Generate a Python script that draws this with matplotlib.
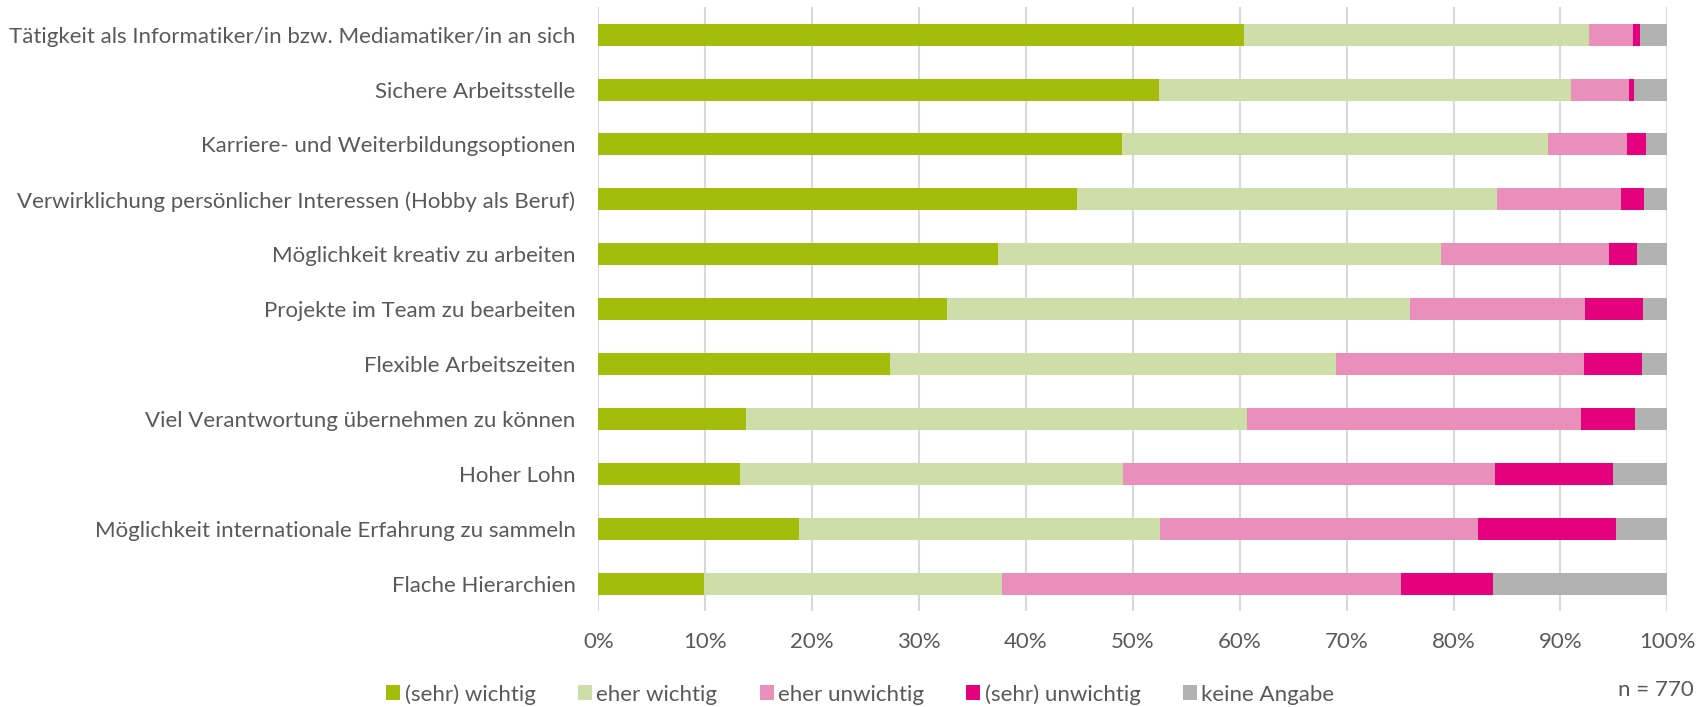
import matplotlib
matplotlib.use("Agg")
import matplotlib.pyplot as plt
import numpy as np

plt.rcParams.update({
    "font.family": ["Lato", "DejaVu Sans"],
    "font.size": 16,
})

TEXT = "#595959"
GRID = "#d9d9d9"

items = [
    "Tätigkeit als Informatiker/in bzw. Mediamatiker/in an sich",
    "Sichere Arbeitsstelle",
    "Karriere- und Weiterbildungsoptionen",
    "Verwirklichung persönlicher Interessen (Hobby als Beruf)",
    "Möglichkeit kreativ zu arbeiten",
    "Projekte im Team zu bearbeiten",
    "Flexible Arbeitszeiten",
    "Viel Verantwortung übernehmen zu können",
    "Hoher Lohn",
    "Möglichkeit internationale Erfahrung zu sammeln",
    "Flache Hierarchien",
]

series = ["(sehr) wichtig", "eher wichtig", "eher unwichtig", "(sehr) unwichtig", "keine Angabe"]
colors = ["#a3bd0a", "#cddea8", "#ea8fbb", "#e5007d", "#b2b2b2"]

sehr_wichtig = [60.4, 52.4, 49.0, 44.8, 37.4, 32.6, 27.3, 13.8, 13.3, 18.8, 9.9]
eher_wichtig = [32.3, 38.6, 39.8, 39.3, 41.4, 43.3, 41.7, 46.9, 35.8, 33.7, 27.9]
eher_unwichtig = [4.1, 5.4, 7.4, 11.6, 15.7, 16.4, 23.2, 31.2, 34.8, 29.8, 37.3]
sehr_unwichtig = [0.6, 0.5, 1.8, 2.1, 2.7, 5.4, 5.4, 5.1, 11.0, 12.9, 8.6]
keine_angabe = [2.6, 3.1, 2.0, 2.2, 2.8, 2.3, 2.4, 3.0, 5.1, 4.8, 16.3]

data = np.array([sehr_wichtig, eher_wichtig, eher_unwichtig, sehr_unwichtig, keine_angabe])
data = data / data.sum(axis=0) * 100

fig = plt.figure(figsize=(17.07, 7.07), dpi=100)
ax = fig.add_axes([0.3505, 0.1358, 0.6263, 0.854])

y = np.arange(len(items))
left = np.zeros(len(items))
for vals, name, col in zip(data, series, colors):
    ax.barh(y, vals, left=left, height=0.4, color=col, label=name, zorder=3)
    left += vals

ax.set_xlim(0, 100)
ax.set_ylim(len(items) - 0.5, -0.5)
ax.set_xticks(np.arange(0, 101, 10))
ax.set_xticklabels([f"{v}%" for v in range(0, 101, 10)])
ax.set_yticks(y)
ax.set_yticklabels(items)
ax.tick_params(axis="both", length=0, colors=TEXT, labelsize=16)
ax.tick_params(axis="y", pad=16.5)
ax.tick_params(axis="x", pad=15)
ax.grid(axis="x", color=GRID, lw=1.5, zorder=0)
for s in ax.spines.values():
    s.set_visible(False)

handles, labels = ax.get_legend_handles_labels()
fig.legend(handles, labels, loc="center", bbox_to_anchor=(0.504, 0.018), ncol=5,
           frameon=False, fontsize=16, labelcolor=TEXT, handlelength=0.63, handleheight=0.63,
           handletextpad=0.2, columnspacing=1.9, borderpad=0, borderaxespad=0)
fig.text(0.992, 0.024, "n = 770", ha="right", va="center", fontsize=16, color=TEXT)

fig.savefig("out.png", dpi=100)
